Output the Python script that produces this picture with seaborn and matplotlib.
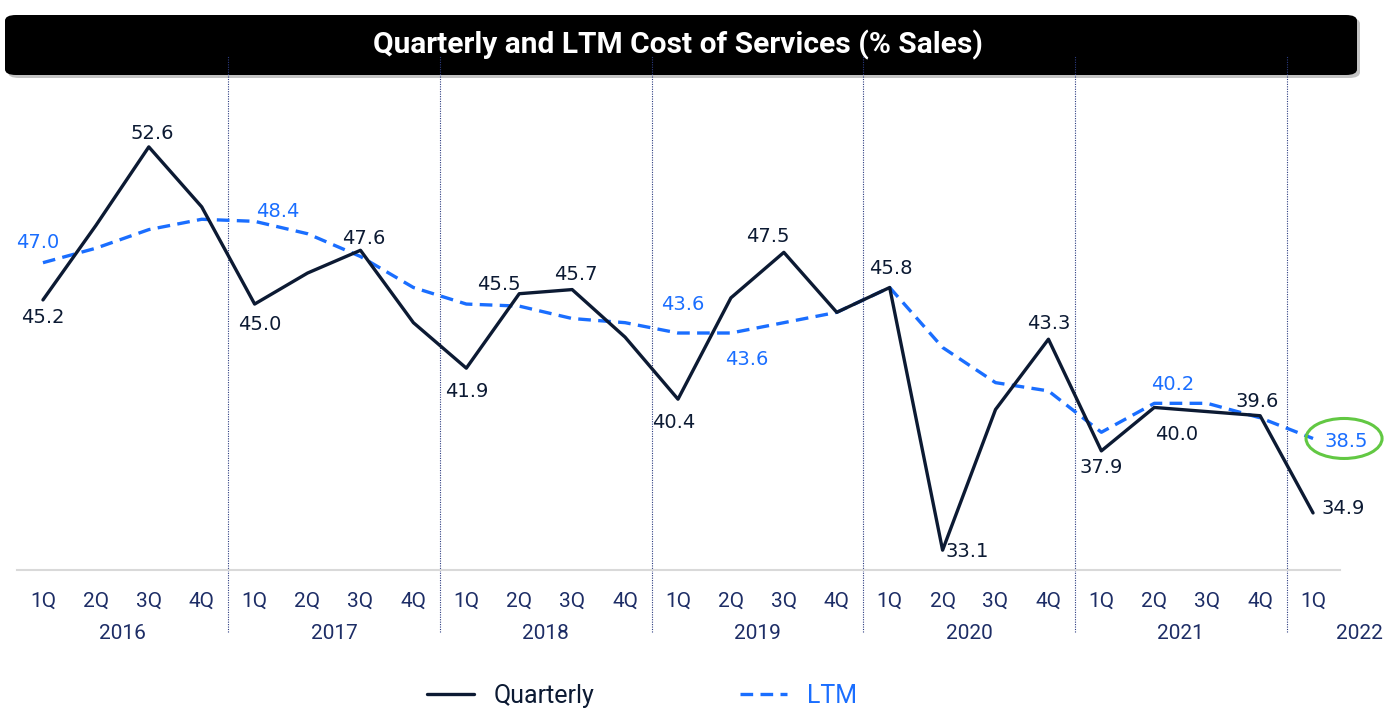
import matplotlib
matplotlib.use("Agg")
import matplotlib.pyplot as plt
import pandas as pd
import seaborn as sns
from matplotlib.patches import FancyBboxPatch, Ellipse

# Data
quarters = ["1Q", "2Q", "3Q", "4Q"] * 6 + ["1Q"]
years = ["2016", "2017", "2018", "2019", "2020", "2021", "2022"]
quarterly = [45.2, 48.8, 52.6, 49.7, 45.0, 46.5, 47.6, 44.1, 41.9, 45.5, 45.7, 43.4,
             40.4, 45.3, 47.5, 44.6, 45.8, 33.1, 39.9, 43.3, 37.9, 40.0, 39.8, 39.6, 34.9]
ltm = [47.0, 47.7, 48.6, 49.1, 49.0, 48.4, 47.3, 45.8, 45.0, 44.9, 44.3, 44.1,
       43.6, 43.6, 44.1, 44.6, 45.8, 42.9, 41.2, 40.8, 38.8, 40.2, 40.2, 39.5, 38.5]

# which points carry a value label, with label offset in pixels (dx, dy)
q_labels = {0: (0, -18), 2: (3, 13), 4: (5, -20), 6: (3, 12), 8: (0, -23), 9: (-20, 9),
            10: (4, 15), 12: (-4, -23), 14: (-16, 16), 16: (1, 19), 17: (25, -1),
            19: (0, 16), 20: (0, -17), 21: (22, -27), 23: (-3, 14), 24: (30, 4)}
ltm_labels = {0: (-5, 20), 5: (-30, 22), 12: (5, 29), 13: (16, -26), 21: (18, 19), 24: (33, -3)}

NAVY = "#0c1a33"
BLUE = "#1a6eff"
TICK = "#1d2d66"

sns.set_style("white")
plt.rcParams["font.family"] = ["DejaVu Sans"]
ui = dict(family=["Roboto", "DejaVu Sans"])

df = pd.DataFrame({"idx": range(len(quarters)), "Quarterly": quarterly, "LTM": ltm})

W, H = 1386, 711
fig = plt.figure(figsize=(W / 100, H / 100), dpi=100)
ax = fig.add_axes([16.5 / W, (H - 570) / H, 1323 / W, 490 / H])

sns.lineplot(data=df, x="idx", y="LTM", ax=ax, color=BLUE, lw=2.4,
             linestyle=(0, (3.8, 2.2)), label="LTM", zorder=3)
sns.lineplot(data=df, x="idx", y="Quarterly", ax=ax, color=NAVY, lw=2.4,
             label="Quarterly", zorder=4)

px_per_unit = 20.68
ax.set_xlim(-0.5, 24.5)
ax.set_ylim(32.14, 32.14 + 490 / px_per_unit)

for i, (dx, dy) in q_labels.items():
    ax.annotate(f"{quarterly[i]:.1f}", (i, quarterly[i]), xytext=(dx, dy),
                textcoords="offset pixels", ha="center", va="center",
                fontsize=14, color=NAVY, zorder=6)
for i, (dx, dy) in ltm_labels.items():
    ax.annotate(f"{ltm[i]:.1f}", (i, ltm[i]), xytext=(dx, dy),
                textcoords="offset pixels", ha="center", va="center",
                fontsize=14, color=BLUE, zorder=6)

# green highlight around the last LTM value
last = len(ltm) - 1
ax.add_patch(Ellipse((last + 31 / 52.9, ltm[last]), 76 / 52.9, 40 / px_per_unit,
                     fill=False, ec="#62c843", lw=2.2, clip_on=False, zorder=5))

# year separators
for k in range(1, 7):
    ax.axvline(4 * k - 0.5, ymin=-0.127, ymax=1.05, color="#2b3b80", lw=0.8,
               ls=(0, (1, 1.2)), clip_on=False, zorder=1)

ax.set_xticks(range(len(quarters)))
ax.set_xticklabels(quarters, color=TICK, fontsize=15, **ui)
ax.tick_params(axis="x", length=0, pad=16)
ax.set_yticks([])
ax.set_xlabel("")
ax.set_ylabel("")
for s in ["top", "right", "left"]:
    ax.spines[s].set_visible(False)
ax.spines["bottom"].set_color("#d9d9d9")
ax.spines["bottom"].set_linewidth(1.5)

year_pos = [1.5, 5.5, 9.5, 13.5, 17.5, 21.5, 24.88]
for pos, yr in zip(year_pos, years):
    ax.text(pos, -0.129, yr, transform=ax.get_xaxis_transform(), ha="center",
            va="center", fontsize=15, color=TICK, clip_on=False, **ui)

# title bar
fig.patches.append(FancyBboxPatch((8 / W, (H - 78) / H), 1352 / W, 60 / H,
                                  boxstyle="round,pad=0,rounding_size=0.008",
                                  transform=fig.transFigure, fc="#c4c4c4", ec="none",
                                  zorder=-2))
fig.patches.append(FancyBboxPatch((5 / W, (H - 75) / H), 1352 / W, 60 / H,
                                  boxstyle="round,pad=0,rounding_size=0.008",
                                  transform=fig.transFigure, fc="black", ec="none",
                                  zorder=-1))
fig.text(678 / W, (H - 45) / H, "Quarterly and LTM Cost of Services (% Sales)",
         color="white", fontsize=21.5, fontweight="bold", ha="center", va="center", **ui)

handles, labels = ax.get_legend_handles_labels()
ax.get_legend().remove()
order = [labels.index("Quarterly"), labels.index("LTM")]
leg = fig.legend([handles[i] for i in order], [labels[i] for i in order],
                 loc="center", bbox_to_anchor=(642 / W, 15 / H), ncol=2, frameon=False,
                 handlelength=1.9, handletextpad=0.8, columnspacing=5.8,
                 prop=dict(size=18, **ui))
leg.get_texts()[0].set_color(NAVY)
leg.get_texts()[1].set_color(BLUE)

fig.savefig("out.png", dpi=100)
